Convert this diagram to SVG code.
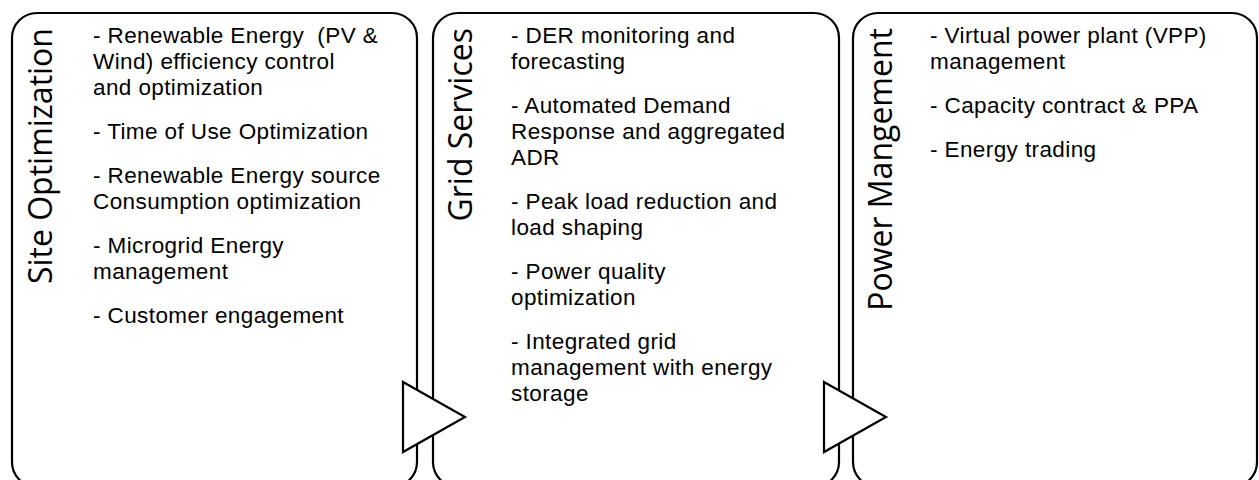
<svg xmlns="http://www.w3.org/2000/svg" width="1259" height="480" viewBox="0 0 1259 480">
<style>
.box{fill:#fff;stroke:#000;stroke-width:2.2}
.tri{fill:#fff;stroke:#000;stroke-width:2.2;stroke-linejoin:miter}
.t{font-family:"Liberation Sans",Arial,sans-serif;font-size:22.5px;letter-spacing:0.4px;fill:#000}
.h{font-family:"Open Sans","Liberation Sans",sans-serif;font-size:32px;fill:#000;text-anchor:end}
</style>
<rect width="1259" height="480" fill="#fff"/>
<g id="site-optimization">
<rect class="box" x="12" y="13" width="405" height="474" rx="25" ry="25"/>
<text class="h" transform="translate(52,28) rotate(-90)">Site Optimization</text>
<text class="t" xml:space="preserve"><tspan x="93" y="43">- Renewable Energy  (PV &amp;</tspan><tspan x="93" y="69">Wind) efficiency control</tspan><tspan x="93" y="95">and optimization</tspan><tspan x="93" y="139">- Time of Use Optimization</tspan><tspan x="93" y="183">- Renewable Energy source</tspan><tspan x="93" y="209">Consumption optimization</tspan><tspan x="93" y="253">- Microgrid Energy</tspan><tspan x="93" y="279">management</tspan><tspan x="93" y="323">- Customer engagement</tspan></text>
</g>
<g id="grid-services">
<rect class="box" x="433" y="13" width="406" height="474" rx="25" ry="25"/>
<text class="h" transform="translate(472,28) rotate(-90)">Grid Services</text>
<text class="t"><tspan x="511" y="43">- DER monitoring and</tspan><tspan x="511" y="69">forecasting</tspan><tspan x="511" y="113">- Automated Demand</tspan><tspan x="511" y="139">Response and aggregated</tspan><tspan x="511" y="165">ADR</tspan><tspan x="511" y="209">- Peak load reduction and</tspan><tspan x="511" y="235">load shaping</tspan><tspan x="511" y="279">- Power quality</tspan><tspan x="511" y="305">optimization</tspan><tspan x="511" y="349">- Integrated grid</tspan><tspan x="511" y="375">management with energy</tspan><tspan x="511" y="401">storage</tspan></text>
</g>
<g id="power-management">
<rect class="box" x="853" y="13" width="404" height="474" rx="25" ry="25"/>
<text class="h" transform="translate(892,28) rotate(-90)">Power Mangement</text>
<text class="t"><tspan x="930" y="43">- Virtual power plant (VPP)</tspan><tspan x="930" y="69">management</tspan><tspan x="930" y="113">- Capacity contract &amp; PPA</tspan><tspan x="930" y="157">- Energy trading</tspan></text>
</g>
<g id="connectors">
<polygon class="tri" points="403,382 465,417 403,452"/>
<polygon class="tri" points="824,382 886,417 824,452"/>
</g>
</svg>
